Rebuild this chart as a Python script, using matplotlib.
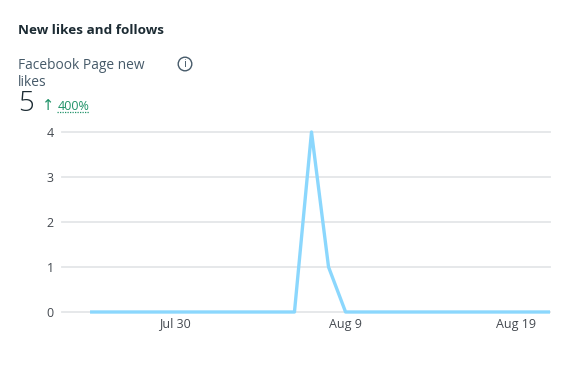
import matplotlib
matplotlib.use('Agg')
import matplotlib.pyplot as plt
import pandas as pd
from matplotlib.patches import Circle

plt.rcParams['font.family'] = ['Open Sans', 'DejaVu Sans']

W, H = 575, 374

title = "New likes and follows"
metric_lines = ["Facebook Page new", "likes"]
total = "5"
change = "400%"

dates = pd.date_range("2024-07-25", "2024-08-21")
likes = [0, 0, 0, 0, 0, 0, 0, 0, 0, 0, 0, 0, 0, 4, 1, 0,
         0, 0, 0, 0, 0, 0, 0, 0, 0, 0, 0, 0]
tick_dates = pd.to_datetime(["2024-07-30", "2024-08-09", "2024-08-19"])
tick_labels = ["Jul 30", "Aug 9", "Aug 19"]
y_ticks = [0, 1, 2, 3, 4]

dark = '#1c2b33'
grey = '#465a69'
tick_grey = '#444950'
green = '#1f9268'
line_blue = '#8bd7fd'
grid_grey = '#e4e6e8'

fig = plt.figure(figsize=(W / 100, H / 100), dpi=100, facecolor='white')

# axes placed by pixels: gridlines run 62-550, y=4 at 132, y=0 at 312
ax = fig.add_axes([62 / W, 1 - 312 / H, (550 - 62) / W, 180 / H])
ax.plot(dates, likes, color=line_blue, lw=2.4, solid_joinstyle='round',
        solid_capstyle='butt', clip_on=False, zorder=3)
ax.set_ylim(0, 4)
ax.set_xlim(dates[0] - pd.Timedelta(hours=39.5), dates[-1])
ax.set_yticks(y_ticks)
ax.set_xticks(tick_dates)
ax.set_xticklabels(tick_labels)
ax.grid(axis='y', color=grid_grey, lw=1.3, clip_on=False)
ax.tick_params(length=0, labelsize=9, labelcolor=tick_grey)
ax.tick_params(axis='x', pad=4)
ax.tick_params(axis='y', pad=6)
for s in ax.spines.values():
    s.set_visible(False)
ax.patch.set_alpha(0)


def px(x, y):
    return x / W, 1 - y / H


fig.text(*px(18, 30), title, fontsize=9.7, fontweight='bold', color=dark, va='center')
fig.text(*px(18, 65.5), metric_lines[0], fontsize=9.9, color=grey, va='center')
fig.text(*px(18, 82), metric_lines[1], fontsize=9.9, color=grey, va='center')
fig.text(*px(18, 104), total, fontsize=20, fontweight='light', color=dark, va='center')
fig.text(*px(42, 105), "\u2191", fontsize=10.5, color=green, va='center', family=['DejaVu Sans'])
fig.text(*px(58, 106), change, fontsize=9, color=green, va='center')
fig.add_artist(plt.Line2D([57 / W, 89 / W], [1 - 112 / H] * 2, color=green, lw=0.9, ls=(0, (1, 1))))

# info icon
icon = fig.add_axes([176 / W, 1 - 73 / H, 18 / W, 18 / H])
icon.set_xlim(-9, 9)
icon.set_ylim(-9, 9)
icon.axis('off')
icon.add_patch(Circle((0, 0), 6.8, fill=False, ec=grey, lw=1.0))
icon.text(0, -0.2, "i", fontsize=8, color=grey, ha='center', va='center')

fig.savefig('out.png', dpi=100, facecolor='white')
